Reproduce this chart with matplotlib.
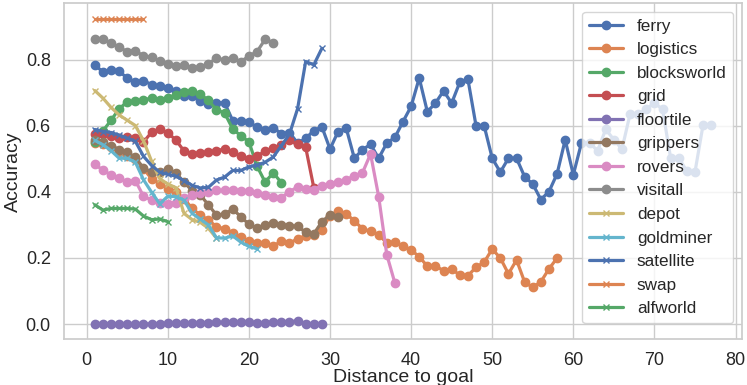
import numpy as np
import matplotlib
matplotlib.use("Agg")
import matplotlib.pyplot as plt
import seaborn as sns

# accuracy per distance-to-goal (x starts at 1 for every domain)
ferry = [0.785, 0.763, 0.768, 0.765, 0.745, 0.733, 0.737, 0.725, 0.72, 0.716,
         0.707, 0.69, 0.692, 0.674, 0.667, 0.67, 0.67, 0.616, 0.616, 0.612,
         0.596, 0.588, 0.595, 0.576, 0.58, 0.548, 0.562, 0.586, 0.597, 0.53,
         0.583, 0.593, 0.502, 0.528, 0.544, 0.502, 0.548, 0.565, 0.613, 0.659,
         0.745, 0.643, 0.669, 0.706, 0.669, 0.732, 0.742, 0.601, 0.601, 0.502,
         0.46, 0.502, 0.502, 0.446, 0.424, 0.377, 0.401, 0.455, 0.558, 0.452,
         0.548, 0.548, 0.525, 0.59, 0.558, 0.53, 0.636, 0.636, 0.65, 0.67,
         0.65, 0.503, 0.503, 0.463, 0.46, 0.603, 0.603]
logistics = [0.547, 0.545, 0.535, 0.52, 0.51, 0.50, 0.47, 0.44, 0.425, 0.41,
             0.40, 0.38, 0.35, 0.33, 0.315, 0.295, 0.288, 0.277, 0.263, 0.252,
             0.246, 0.245, 0.237, 0.25, 0.245, 0.258, 0.267, 0.27, 0.286, 0.328,
             0.343, 0.333, 0.313, 0.288, 0.281, 0.271, 0.245, 0.247, 0.237, 0.224,
             0.204, 0.175, 0.175, 0.162, 0.167, 0.148, 0.146, 0.172, 0.187, 0.227,
             0.20, 0.152, 0.194, 0.127, 0.111, 0.128, 0.167, 0.20]
blocksworld = [0.55, 0.585, 0.617, 0.652, 0.673, 0.674, 0.679, 0.684, 0.677, 0.686,
               0.694, 0.704, 0.706, 0.697, 0.677, 0.649, 0.639, 0.591, 0.57, 0.552,
               0.478, 0.43, 0.458, 0.428]
grid = [0.576, 0.575, 0.568, 0.563, 0.566, 0.562, 0.551, 0.581, 0.591, 0.579,
        0.557, 0.524, 0.515, 0.518, 0.52, 0.525, 0.53, 0.522, 0.508, 0.499,
        0.509, 0.523, 0.533, 0.542, 0.556, 0.544, 0.535, 0.413]
floortile = [0.0, 0.0, 0.0, 0.0, 0.0, 0.0, 0.0, 0.0, 0.0, 0.002,
             0.002, 0.002, 0.002, 0.002, 0.003, 0.005, 0.005, 0.005, 0.005, 0.005,
             0.004, 0.004, 0.005, 0.006, 0.007, 0.01, 0.0, 0.0, 0.0]
grippers = [0.556, 0.55, 0.54, 0.528, 0.52, 0.505, 0.472, 0.46, 0.46, 0.469,
            0.458, 0.429, 0.404, 0.391, 0.361, 0.33, 0.333, 0.348, 0.325, 0.302,
            0.29, 0.301, 0.305, 0.30, 0.298, 0.296, 0.278, 0.273, 0.31, 0.331, 0.323]
rovers = [0.485, 0.465, 0.452, 0.441, 0.431, 0.434, 0.387, 0.375, 0.367, 0.365,
          0.368, 0.383, 0.39, 0.396, 0.401, 0.405, 0.405, 0.406, 0.403, 0.402,
          0.398, 0.39, 0.384, 0.383, 0.401, 0.415, 0.41, 0.407, 0.419, 0.424,
          0.429, 0.437, 0.449, 0.458, 0.515, 0.386, 0.21, 0.124]
visitall = [0.864, 0.862, 0.852, 0.838, 0.825, 0.828, 0.811, 0.808, 0.796, 0.786,
            0.78, 0.783, 0.776, 0.778, 0.788, 0.805, 0.80, 0.805, 0.795, 0.811,
            0.825, 0.862, 0.852]
depot = [0.707, 0.684, 0.656, 0.633, 0.617, 0.601, 0.555, 0.493, 0.44, 0.424,
         0.413, 0.335, 0.316, 0.308, 0.29, 0.26]
goldminer = [0.556, 0.543, 0.525, 0.502, 0.502, 0.49, 0.437, 0.399, 0.364, 0.387,
             0.386, 0.375, 0.335, 0.318, 0.30, 0.261, 0.26, 0.267, 0.248, 0.235, 0.228]
satellite = [0.589, 0.583, 0.58, 0.572, 0.563, 0.553, 0.508, 0.48, 0.46, 0.453,
             0.448, 0.434, 0.42, 0.412, 0.414, 0.436, 0.445, 0.465, 0.465, 0.476,
             0.481, 0.49, 0.506, 0.54, 0.575, 0.652, 0.795, 0.785, 0.835]
swap = [0.925, 0.925, 0.925, 0.925, 0.925, 0.925, 0.925]
alfworld = [0.361, 0.345, 0.35, 0.35, 0.35, 0.348, 0.327, 0.316, 0.318, 0.31]

series = [("ferry", ferry), ("logistics", logistics), ("blocksworld", blocksworld),
          ("grid", grid), ("floortile", floortile), ("grippers", grippers),
          ("rovers", rovers), ("visitall", visitall), ("depot", depot),
          ("goldminer", goldminer), ("satellite", satellite), ("swap", swap),
          ("alfworld", alfworld)]

sns.set_theme(style="whitegrid")
plt.rcParams['font.family'] = ['Liberation Sans', 'DejaVu Sans']

fig, ax = plt.subplots(figsize=(7.47, 3.85), dpi=100)
colors = sns.color_palette("deep", 10)

for i, (name, vals) in enumerate(series):
    x = np.arange(1, len(vals) + 1)
    if i < 8:
        ax.plot(x, vals, marker='o', markersize=6, lw=2.3, color=colors[i % 10], label=name)
    else:
        ax.plot(x, vals, marker='x', markersize=5, mew=1, lw=2.3, color=colors[i % 10], label=name)

ax.set_xlabel("Distance to goal", fontsize=14, labelpad=0)
ax.set_ylabel("Accuracy", fontsize=14, labelpad=3)
ax.tick_params(labelsize=13)
ax.set_xticks(range(0, 81, 10))
ax.set_yticks([0.0, 0.2, 0.4, 0.6, 0.8])
ax.legend(loc='upper right', fontsize=12.3)

fig.subplots_adjust(left=0.0857, right=0.9933, top=0.9914, bottom=0.1187)
fig.savefig("out.png", dpi=100)
